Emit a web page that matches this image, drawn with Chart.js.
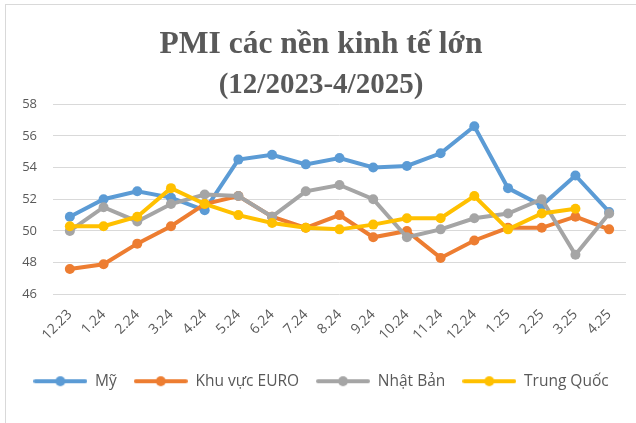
<!DOCTYPE html>
<html>
<head>
<meta charset="utf-8">
<script src="https://cdn.jsdelivr.net/npm/chart.js@4"></script>
<style>
  html, body { margin: 0; padding: 0; background: #fff; }
  #wrap { position: relative; width: 636px; height: 423px; overflow: hidden; }
  #frame { position: absolute; left: 5px; top: 4px; width: 660px; height: 450px; border: 1px solid #d9d9d9; box-sizing: border-box; }
  #chart { position: absolute; left: 0; top: 0; }
</style>
</head>
<body>
<div id="wrap">
  <div id="frame"></div>
  <canvas id="chart" width="636" height="423"></canvas>
</div>
<script>
// ====== Datos ======
const months = ['12.23', '1.24', '2.24', '3.24', '4.24', '5.24', '6.24', '7.24', '8.24',
  '9.24', '10.24', '11.24', '12.24', '1.25', '2.25', '3.25', '4.25'];
const my = [50.9, 52.0, 52.5, 52.1, 51.3, 54.5, 54.8, 54.2, 54.6, 54.0, 54.1, 54.9, 56.6, 52.7, 51.6, 53.5, 51.2];
const euro = [47.6, 47.9, 49.2, 50.3, 51.7, 52.2, 50.9, 50.2, 51.0, 49.6, 50.0, 48.3, 49.4, 50.2, 50.2, 50.9, 50.1];
const nhatBan = [50.0, 51.5, 50.6, 51.7, 52.3, 52.2, 50.9, 52.5, 52.9, 52.0, 49.6, 50.1, 50.8, 51.1, 52.0, 48.5, 51.1];
const trungQuoc = [50.3, 50.3, 50.9, 52.7, 51.7, 51.0, 50.5, 50.2, 50.1, 50.4, 50.8, 50.8, 52.2, 50.1, 51.1, 51.4, null];

const series = [
  { label: 'Mỹ', data: my, color: '#5B9BD5' },
  { label: 'Khu vực EURO', data: euro, color: '#ED7D31' },
  { label: 'Nhật Bản', data: nhatBan, color: '#A5A5A5' },
  { label: 'Trung Quốc', data: trungQuoc, color: '#FFC000' }
];

const TEXT = '#595959';
const SANS = "'Open Sans', 'Liberation Sans', sans-serif";

// icono de leyenda: línea con punto
function legendIcon(color) {
  const c = document.createElement('canvas');
  c.width = 54; c.height = 12;
  const g = c.getContext('2d');
  g.strokeStyle = color;
  g.lineWidth = 4;
  g.lineCap = 'round';
  g.beginPath(); g.moveTo(2, 6); g.lineTo(52, 6); g.stroke();
  g.fillStyle = color;
  g.beginPath(); g.arc(27, 6, 5, 0, Math.PI * 2); g.fill();
  return c;
}
const icons = series.map(s => legendIcon(s.color));

new Chart(document.getElementById('chart'), {
  type: 'line',
  data: {
    labels: months,
    datasets: series.map((s, i) => ({
      label: s.label,
      data: s.data,
      borderColor: s.color,
      backgroundColor: s.color,
      borderWidth: 4,
      pointRadius: 5,
      pointHoverRadius: 5,
      pointBorderWidth: 0,
      tension: 0,
      spanGaps: false,
      order: series.length - i // la última serie queda encima
    }))
  },
  options: {
    responsive: false,
    animation: false,
    layout: { padding: { left: 16, right: 10, top: 8, bottom: 24 } },
    plugins: {
      title: {
        display: true,
        text: 'PMI các nền kinh tế lớn',
        color: TEXT,
        font: { family: 'Liberation Serif', size: 31.5, weight: 'bold' },
        padding: { top: 18, bottom: 0 }
      },
      subtitle: {
        display: true,
        text: '(12/2023-4/2025)',
        color: TEXT,
        font: { family: 'Liberation Serif', size: 29, weight: 'bold' },
        padding: { top: 4, bottom: 1.5 }
      },
      legend: {
        position: 'bottom',
        labels: {
          color: TEXT,
          font: { family: SANS, size: 15.5 },
          usePointStyle: true,
          pointStyleWidth: 54,
          boxHeight: 12,
          padding: 17,
          generateLabels: (chart) => {
            const items = Chart.defaults.plugins.legend.labels.generateLabels(chart);
            items.sort((a, b) => a.datasetIndex - b.datasetIndex);
            items.forEach(it => { it.pointStyle = icons[it.datasetIndex]; it.lineWidth = 0; });
            return items;
          }
        }
      },
      tooltip: { enabled: false }
    },
    scales: {
      x: {
        offset: true,
        grid: { display: false },
        border: { display: false },
        afterFit: (s) => { s.paddingLeft = 0; s.paddingRight = 0; s.height += 9; },
        ticks: {
          color: TEXT,
          font: { family: SANS, size: 14 },
          minRotation: 45,
          maxRotation: 45,
          autoSkip: false,
          padding: 4
        }
      },
      y: {
        min: 46,
        max: 58,
        border: { display: false },
        grid: { color: '#d9d9d9', lineWidth: 1, drawTicks: false },
        afterFit: (s) => { s.width = 37; },
        ticks: {
          stepSize: 2,
          color: TEXT,
          font: { family: SANS, size: 13 },
          padding: 16
        }
      }
    }
  }
});
</script>
</body>
</html>
